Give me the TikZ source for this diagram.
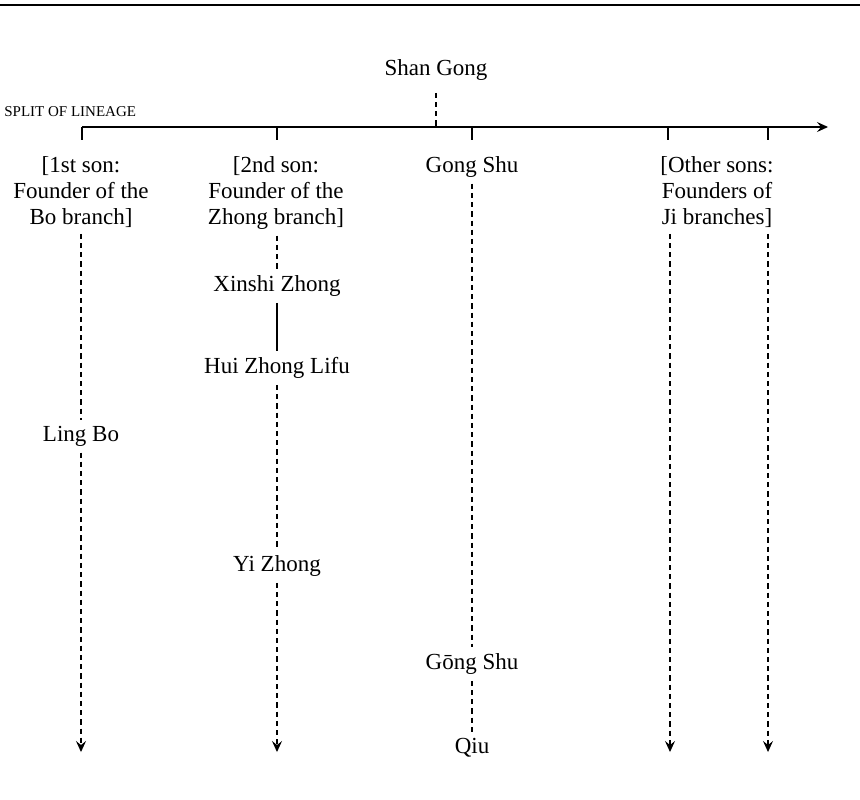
\documentclass[tikz,border=0pt]{standalone}
\usepackage{fontspec}
\setmainfont{Liberation Serif}
\usetikzlibrary{arrows.meta,positioning,calc}

\begin{document}
\begin{tikzpicture}[
  x=0.5pt, y=-0.5pt,
  font=\fontsize{11.5}{13}\selectfont,
  >={Stealth[length=5.5pt,width=5pt,inset=2pt]},
  person/.style={align=center, inner sep=3pt},
  link/.style={line width=0.6pt},
  desc/.style={link, dash pattern=on 2.6pt off 2pt},
  descarrow/.style={desc, ->}
]
\useasboundingbox (0,0) rectangle (860,799);

% top rule
\draw[line width=1pt] (0,5) -- (860,5);

\node[person] (shan) at (436,70) {Shan Gong};
\node[anchor=west, inner sep=0pt, font=\fontsize{7.5}{9}\selectfont] (split) at (4,112) {SPLIT OF LINEAGE};

% split axis with one tick per son
\coordinate (t1) at (82,127);
\coordinate (t2) at (277,127);
\coordinate (t3) at (472,127);
\coordinate (t4) at (668,127);
\coordinate (t5) at (768,127);
\coordinate (axisend) at (828,127);
\draw[link,->] (t1) -- (axisend);
\draw[desc, shorten <=3pt] (shan) -- (shan |- t1);
\foreach \t in {t1,t2,t3,t4,t5}
  \draw[link] (\t) -- ++(0,13);

% sons
\node[person, anchor=north] (bo) at (81,150) {[1st son:\\Founder of the\\Bo branch]};
\node[person, anchor=north] (zhong) at (276,150) {[2nd son:\\Founder of the\\Zhong branch]};
\node[person, anchor=north] (gong) at (472,150) {Gong Shu};
\node[person, anchor=north] (other) at (717,150) {[Other sons:\\Founders of\\Ji branches]};

% descendants
\node[person] (lingbo) at (81,436) {Ling Bo};
\node[person] (xinshi) at (277,286) {Xinshi Zhong};
\node[person] (hui) at (277,368) {Hui Zhong Lifu};
\node[person] (yi) at (277,566) {Yi Zhong};
\node[person] (gong2) at (472,664) {Gōng Shu};
\node[person] (qiu) at (472,748) {Qiu};

% line ends
\coordinate (e1) at (81,752);
\coordinate (e2) at (277,752);
\coordinate (e4) at (670,752);
\coordinate (e5) at (768,752);

% Bo branch
\draw[desc] (bo) -- (lingbo);
\draw[descarrow] (lingbo) -- (e1);

% Zhong branch
\draw[desc] (zhong.south -| xinshi) -- (xinshi);
\draw[link] (xinshi) -- (hui);
\draw[desc] (hui) -- (yi);
\draw[descarrow] (yi) -- (e2);

% Gong Shu line
\draw[desc] (gong) -- (gong2);
\draw[desc] (gong2) -- (qiu);

% Ji branches
\draw[descarrow] (other.south -| e4) -- (e4);
\draw[descarrow] (other.south -| e5) -- (e5);

\end{tikzpicture}
\end{document}
